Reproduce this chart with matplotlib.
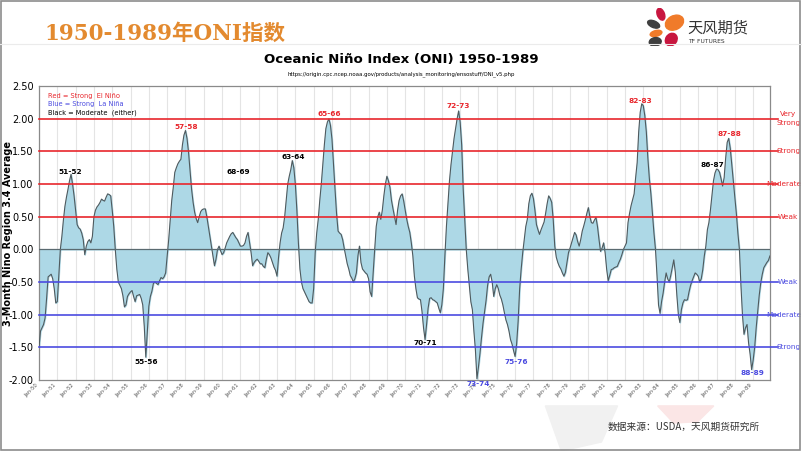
import numpy as np
import matplotlib
matplotlib.use("Agg")
import matplotlib.pyplot as plt
from matplotlib.patches import Ellipse, Polygon

plt.rcParams['font.family'] = ['DejaVu Sans', 'Noto Sans CJK SC']

# Monthly ONI values, one list per year
oni_1950s = [
    [-1.50, -1.25, -1.20, -1.15, -1.05, -0.75, -0.42, -0.40, -0.38, -0.45, -0.60, -0.82],
    [-0.80, -0.40, 0.00, 0.20, 0.45, 0.66, 0.80, 0.92, 1.05, 1.15, 1.00, 0.82],
    [0.60, 0.38, 0.33, 0.31, 0.25, 0.15, -0.08, 0.05, 0.12, 0.15, 0.10, 0.20],
    [0.50, 0.60, 0.65, 0.68, 0.72, 0.77, 0.75, 0.74, 0.80, 0.85, 0.84, 0.82],
    [0.60, 0.35, 0.00, -0.30, -0.50, -0.55, -0.60, -0.71, -0.88, -0.85, -0.72, -0.68],
    [-0.65, -0.63, -0.72, -0.80, -0.71, -0.70, -0.69, -0.75, -0.85, -1.18, -1.65, -1.25],
    [-0.87, -0.72, -0.64, -0.52, -0.50, -0.52, -0.54, -0.48, -0.43, -0.45, -0.42, -0.36],
    [-0.10, 0.15, 0.46, 0.75, 0.95, 1.18, 1.25, 1.31, 1.35, 1.38, 1.60, 1.75],
    [1.82, 1.70, 1.49, 1.20, 0.92, 0.72, 0.57, 0.47, 0.41, 0.50, 0.58, 0.61],
    [0.62, 0.62, 0.50, 0.35, 0.20, 0.05, -0.10, -0.25, -0.15, 0.00, 0.05, -0.02],
]
oni_1960s = [
    [-0.08, -0.05, 0.02, 0.10, 0.15, 0.20, 0.24, 0.26, 0.22, 0.18, 0.15, 0.10],
    [0.05, 0.05, 0.06, 0.10, 0.20, 0.26, 0.10, -0.05, -0.25, -0.20, -0.17, -0.15],
    [-0.18, -0.22, -0.22, -0.26, -0.28, -0.15, -0.05, -0.08, -0.13, -0.20, -0.27, -0.32],
    [-0.41, -0.12, 0.10, 0.25, 0.33, 0.50, 0.75, 1.00, 1.12, 1.22, 1.36, 1.25],
    [1.00, 0.60, 0.10, -0.30, -0.50, -0.60, -0.65, -0.70, -0.75, -0.80, -0.82, -0.82],
    [-0.60, -0.05, 0.25, 0.46, 0.75, 1.00, 1.30, 1.60, 1.85, 1.95, 2.00, 1.90],
    [1.69, 1.30, 0.92, 0.55, 0.28, 0.25, 0.23, 0.15, 0.02, -0.10, -0.22, -0.30],
    [-0.40, -0.44, -0.50, -0.45, -0.36, -0.10, 0.05, -0.20, -0.30, -0.33, -0.36, -0.38],
    [-0.45, -0.65, -0.72, -0.35, 0.00, 0.35, 0.50, 0.57, 0.46, 0.60, 0.82, 1.00],
    [1.12, 1.05, 0.95, 0.75, 0.62, 0.50, 0.38, 0.60, 0.75, 0.82, 0.85, 0.74],
]
oni_1970s = [
    [0.60, 0.46, 0.35, 0.26, 0.10, -0.10, -0.41, -0.60, -0.74, -0.76, -0.77, -0.95],
    [-1.20, -1.38, -1.15, -0.90, -0.75, -0.74, -0.77, -0.78, -0.80, -0.82, -0.90, -0.97],
    [-0.85, -0.60, -0.10, 0.35, 0.70, 1.05, 1.30, 1.50, 1.70, 1.85, 2.00, 2.12],
    [1.95, 1.60, 0.92, 0.45, 0.00, -0.30, -0.55, -0.80, -0.92, -1.25, -1.54, -1.98],
    [-1.80, -1.59, -1.35, -1.13, -0.95, -0.78, -0.55, -0.42, -0.38, -0.50, -0.72, -0.60],
    [-0.54, -0.60, -0.70, -0.76, -0.85, -0.97, -1.08, -1.15, -1.25, -1.38, -1.45, -1.55],
    [-1.64, -1.45, -1.10, -0.60, -0.30, -0.05, 0.15, 0.35, 0.46, 0.70, 0.82, 0.86],
    [0.78, 0.60, 0.38, 0.30, 0.23, 0.30, 0.36, 0.42, 0.55, 0.70, 0.82, 0.78],
    [0.72, 0.45, 0.05, -0.12, -0.20, -0.26, -0.30, -0.36, -0.41, -0.35, -0.20, -0.05],
    [0.02, 0.10, 0.18, 0.26, 0.22, 0.12, 0.05, 0.15, 0.28, 0.36, 0.45, 0.55],
]
oni_1980s = [
    [0.64, 0.50, 0.41, 0.40, 0.45, 0.49, 0.35, 0.15, -0.03, 0.02, 0.10, -0.05],
    [-0.30, -0.48, -0.40, -0.31, -0.30, -0.28, -0.27, -0.26, -0.20, -0.15, -0.08, 0.00],
    [0.05, 0.10, 0.41, 0.55, 0.67, 0.76, 0.85, 1.10, 1.33, 1.80, 2.10, 2.23],
    [2.20, 2.05, 1.80, 1.40, 1.08, 0.85, 0.55, 0.25, 0.00, -0.40, -0.85, -0.98],
    [-0.80, -0.67, -0.50, -0.36, -0.45, -0.50, -0.40, -0.28, -0.16, -0.35, -0.70, -1.00],
    [-1.12, -0.92, -0.82, -0.77, -0.78, -0.77, -0.65, -0.55, -0.48, -0.42, -0.36, -0.38],
    [-0.41, -0.50, -0.45, -0.31, -0.10, 0.05, 0.30, 0.41, 0.60, 0.82, 1.05, 1.17],
    [1.23, 1.22, 1.18, 1.08, 0.97, 1.10, 1.40, 1.64, 1.70, 1.55, 1.30, 1.05],
    [0.80, 0.55, 0.25, 0.00, -0.55, -1.00, -1.30, -1.20, -1.15, -1.43, -1.60, -1.84],
    [-1.70, -1.50, -1.20, -0.95, -0.70, -0.51, -0.38, -0.28, -0.24, -0.20, -0.17, -0.10],
]

years = list(range(1950, 1990))
tick_labels = ["Jan-%02d" % (y % 100) for y in years]

# Event labels: (text, month index, value, colour)
events = [
    ("51-52", 20.3, 1.19, "black"),
    ("57-58", 96.4, 1.87, "#E8262C"),
    ("68-69", 130.5, 1.19, "black"),
    ("63-64", 166.6, 1.41, "black"),
    ("65-66", 190.0, 2.07, "#E8262C"),
    ("72-73", 274.8, 2.19, "#E8262C"),
    ("82-83", 394.0, 2.28, "#E8262C"),
    ("86-87", 441.0, 1.29, "black"),
    ("87-88", 452.5, 1.76, "#E8262C"),
    ("55-56", 70.0, -1.72, "black"),
    ("70-71", 253.0, -1.44, "black"),
    ("73-74", 288.0, -2.06, "#4B4BE0"),
    ("75-76", 313.0, -1.73, "#4B4BE0"),
    ("88-89", 467.5, -1.90, "#4B4BE0"),
]

el_nino_levels = [0.5, 1.0, 1.5, 2.0]
el_nino_names = ["Weak", "Moderate", "Strong", "Very\nStrong"]
la_nina_levels = [-0.5, -1.0, -1.5]
la_nina_names = ["Weak", "Moderate", "Strong"]

oni = np.array(oni_1950s + oni_1960s + oni_1970s + oni_1980s).ravel()
months = np.arange(len(oni))

fig = plt.figure(figsize=(8.02, 4.51), dpi=100)
fig.patch.set_facecolor("white")

# Faint watermark shapes at the bottom
fig.add_artist(Polygon([[0.68, 0.10], [0.77, 0.10], [0.75, 0.02], [0.70, 0.0]],
                       closed=True, color="#F1F1F1", transform=fig.transFigure, zorder=0))
fig.add_artist(Polygon([[0.82, 0.10], [0.89, 0.10], [0.87, 0.065], [0.84, 0.062]],
                       closed=True, color="#FBE6E6", transform=fig.transFigure, zorder=0))

# Slide header
fig.text(0.056, 0.925, "1950-1989年ONI指数", fontsize=15.5, fontweight="bold",
         color="#E38A2F", family=["DejaVu Serif", "Noto Sans CJK SC"], va="center")
fig.add_artist(plt.Line2D([0.0, 1.0], [0.903, 0.903], color="#EBEBEB", lw=0.8))

# Logo
logo = fig.add_axes([0.806, 0.897, 0.05, 0.085])
logo.set_xlim(0, 10)
logo.set_ylim(0, 10)
logo.axis("off")
for (cx, cy, w, h, ang, col) in [
    (3.6, 8.4, 1.8, 3.2, 20, "#C8163F"),
    (7.0, 6.2, 4.8, 3.6, 30, "#F07B2A"),
    (1.8, 5.8, 3.2, 1.7, -25, "#3F3F3F"),
    (2.4, 3.4, 3.0, 1.5, 15, "#F07B2A"),
    (2.2, 1.2, 3.0, 2.2, 10, "#3F3F3F"),
    (6.2, 1.8, 2.8, 3.4, -30, "#C8163F"),
]:
    logo.add_patch(Ellipse((cx, cy), w, h, angle=ang, color=col))
fig.text(0.857, 0.938, "天风期货", fontsize=11, color="#333333",
         family=["Noto Sans CJK SC"], va="center")
fig.text(0.858, 0.907, "TF FUTURES", fontsize=4.3, color="#333333", va="center")

# Footer
fig.text(0.948, 0.053, "数据来源：USDA，天风期货研究所", fontsize=7, style="italic",
         color="#333333", family=["Noto Sans CJK SC"], ha="right", va="center")

# Chart title
fig.text(0.5, 0.868, "Oceanic Niño Index (ONI) 1950-1989", fontsize=9.6,
         fontweight="bold", ha="center", va="center")
fig.text(0.5, 0.836,
         "https://origin.cpc.ncep.noaa.gov/products/analysis_monitoring/ensostuff/ONI_v5.php",
         fontsize=3.9, ha="center", va="center")

ax = fig.add_axes([0.0486, 0.1574, 0.9114, 0.6516])
ax.set_xlim(0, len(oni) - 1)
ax.set_ylim(-2.0, 2.5)

# Fill and line
ax.fill_between(months, oni, 0, color="#ADD8E6", zorder=2)
ax.plot(months, oni, color="#4F5A5E", lw=0.8, zorder=3)
ax.axhline(0, color="#5A6A70", lw=0.9, zorder=4)

# Threshold lines and side labels
side_x = {"Moderate": 1.019}
for v, name in zip(el_nino_levels, el_nino_names):
    ax.plot([0, 1.011], [v, v], transform=ax.get_yaxis_transform(), color="#E8262C",
            lw=1.2, clip_on=False, zorder=4)
    ax.text(side_x.get(name, 1.025), v, name, transform=ax.get_yaxis_transform(),
            color="#E8262C", fontsize=5.3, ha="center", va="center", linespacing=1.6)
for v, name in zip(la_nina_levels, la_nina_names):
    ax.plot([0, 1.011], [v, v], transform=ax.get_yaxis_transform(), color="#4B4BE0",
            lw=1.2, clip_on=False, zorder=4)
    ax.text(side_x.get(name, 1.025), v, name, transform=ax.get_yaxis_transform(),
            color="#4B4BE0", fontsize=5.3, ha="center", va="center")

for txt, m, v, col in events:
    ax.text(m, v, txt, color=col, fontsize=5.3, fontweight="bold",
            ha="center", va="center", clip_on=False, zorder=5)

# Legend text
ax.text(0.013, 0.975, "Red = Strong  El Niño", transform=ax.transAxes,
        color="#E8262C", fontsize=4.8, va="top")
ax.text(0.013, 0.948, "Blue = Strong  La Niña", transform=ax.transAxes,
        color="#4B4BE0", fontsize=4.8, va="top")
ax.text(0.013, 0.921, "Black = Moderate  (either)", transform=ax.transAxes,
        color="black", fontsize=4.8, va="top")

# Axes styling
jan_idx = np.arange(0, len(oni), 12)
ax.set_xticks(jan_idx)
ax.set_xticklabels(tick_labels, rotation=45, ha="right", fontsize=3.8, color="#555555")
ax.tick_params(axis="x", length=0, pad=2)
ax.xaxis.grid(True, color="#E4E4E4", lw=0.8)
ax.set_axisbelow(True)

ax.set_yticks(np.arange(-2.0, 2.51, 0.5))
ax.set_yticklabels(["%.2f" % t for t in np.arange(-2.0, 2.51, 0.5)], fontsize=7)
ax.tick_params(axis="y", length=0, pad=4)
ax.set_ylabel("3-Month Nino Region 3.4 Average", fontsize=7, fontweight="bold")
ax.yaxis.set_label_coords(-0.036, 0.5)

for s in ax.spines.values():
    s.set_color("#8A8A8A")
    s.set_linewidth(0.9)

# Slide border
fig.add_artist(plt.Rectangle((0.001, 0.002), 0.997, 0.996, fill=False,
                             edgecolor="#8C8C8C", lw=1.2, transform=fig.transFigure))

fig.savefig("out.png", dpi=100)
